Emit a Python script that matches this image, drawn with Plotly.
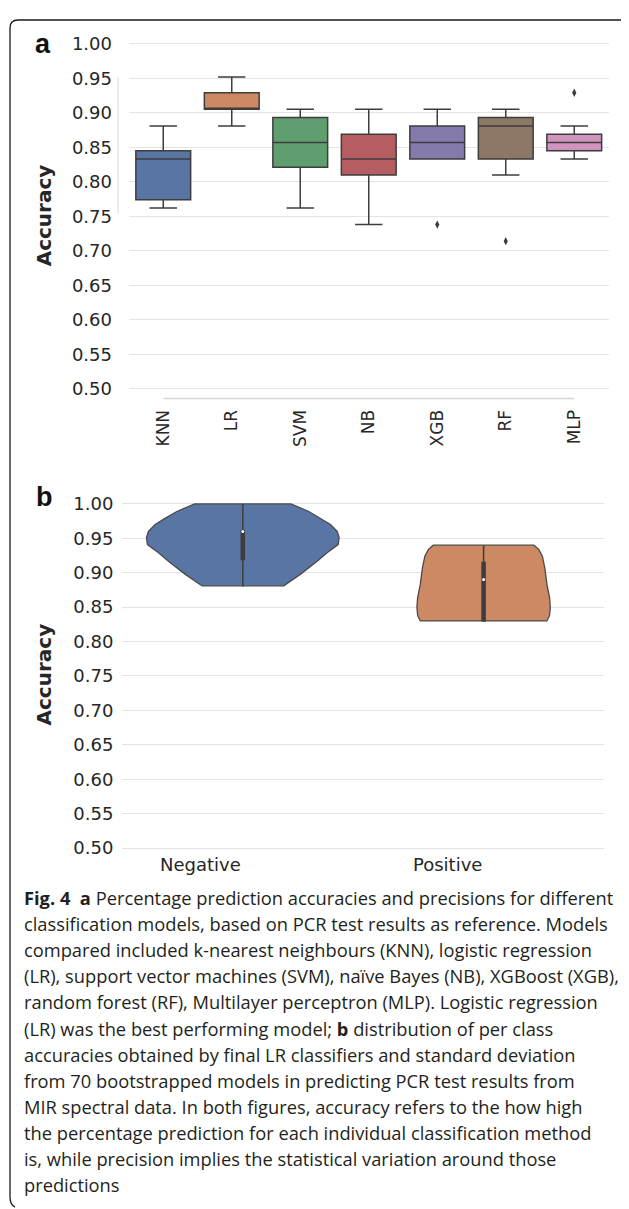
import plotly.graph_objects as go

# ---------------- data ----------------
models = ["KNN", "LR", "SVM", "NB", "XGB", "RF", "MLP"]
box_lowerfence = [0.762, 0.881, 0.762, 0.738, 0.833, 0.810, 0.833]
box_q1 = [0.774, 0.905, 0.821, 0.810, 0.833, 0.833, 0.845]
box_median = [0.833, 0.905, 0.857, 0.833, 0.857, 0.881, 0.857]
box_q3 = [0.845, 0.929, 0.893, 0.869, 0.881, 0.893, 0.869]
box_upperfence = [0.881, 0.952, 0.905, 0.905, 0.905, 0.905, 0.881]
box_colors = ["#5975a4", "#cc8963", "#5f9e6e", "#b55d60", "#857aab", "#8d7866", "#d095bf"]
outlier_models = ["XGB", "RF", "MLP"]
outlier_values = [0.738, 0.714, 0.929]

classes = ["Negative", "Positive"]
violin_colors = ["#5975a4", "#cc8963"]
neg_levels = [0.881, 0.898, 0.917, 0.929, 0.941, 0.951, 0.960, 0.970, 0.979, 0.989, 1.000]
neg_halfwidth = [0.170, 0.240, 0.310, 0.350, 0.396, 0.400, 0.392, 0.364, 0.323, 0.274, 0.200]
pos_levels = [0.830, 0.838, 0.850, 0.864, 0.883, 0.907, 0.924, 0.934, 0.940]
pos_halfwidth = [0.263, 0.274, 0.277, 0.274, 0.263, 0.254, 0.244, 0.229, 0.209]
class_min = [0.880, 0.830]
class_max = [1.000, 0.940]
class_q1 = [0.918, 0.829]
class_q3 = [0.962, 0.916]
class_median = [0.960, 0.890]

y_ticks = [0.50, 0.55, 0.60, 0.65, 0.70, 0.75, 0.80, 0.85, 0.90, 0.95, 1.00]

caption_lines = [
    "<b>Fig. 4</b>\u00a0\u00a0<b>a</b> Percentage prediction accuracies and precisions for different",
    "classification models, based on PCR test results as reference. Models",
    "compared included k-nearest neighbours (KNN), logistic regression",
    "(LR), support vector machines (SVM), naïve Bayes (NB), XGBoost (XGB),",
    "random forest (RF), Multilayer perceptron (MLP). Logistic regression",
    "(LR) was the best performing model; <b>b</b> distribution of per class",
    "accuracies obtained by final LR classifiers and standard deviation",
    "from 70 bootstrapped models in predicting PCR test results from",
    "MIR spectral data. In both figures, accuracy refers to the how high",
    "the percentage prediction for each individual classification method",
    "is, while precision implies the statistical variation around those",
    "predictions",
]

# ---------------- layout constants ----------------
W, H = 629, 1209
OX, OY = 8, 8  # default page body margin offsets the figure


def px(x):
    return (x - OX) / W


def py(y):
    return 1 - (y - OY) / H


EDGE = "#3d3d3d"
GRID = "#e4e4e4"
TXT = "#262626"

fig = go.Figure()

# panel a: boxes
for m, lf, q1, med, q3, uf, c in zip(models, box_lowerfence, box_q1, box_median,
                                     box_q3, box_upperfence, box_colors):
    fig.add_trace(go.Box(
        x=[m], q1=[q1], median=[med], q3=[q3], lowerfence=[lf], upperfence=[uf],
        fillcolor=c, line=dict(color=EDGE, width=1.5), width=0.8, whiskerwidth=0.5,
        boxpoints=False, showlegend=False, xaxis="x", yaxis="y", hoverinfo="skip"))

fig.add_trace(go.Scatter(
    x=outlier_models, y=outlier_values, mode="markers",
    marker=dict(symbol="diamond-tall", size=6, color=EDGE),
    showlegend=False, xaxis="x", yaxis="y", hoverinfo="skip"))

# panel b: violins
profiles = [(neg_levels, neg_halfwidth), (pos_levels, pos_halfwidth)]
for i, ((lv, hw), c) in enumerate(zip(profiles, violin_colors)):
    xs = [i - h for h in hw] + [i + h for h in reversed(hw)] + [i - hw[0]]
    ys = list(lv) + list(reversed(lv)) + [lv[0]]
    fig.add_trace(go.Scatter(
        x=xs, y=ys, mode="lines", fill="toself", fillcolor=c,
        line=dict(color="#4a4a4a", width=1.3), showlegend=False,
        xaxis="x2", yaxis="y2", hoverinfo="skip"))
    fig.add_trace(go.Scatter(
        x=[i, i], y=[class_min[i], class_max[i]], mode="lines",
        line=dict(color=EDGE, width=1.5), showlegend=False,
        xaxis="x2", yaxis="y2", hoverinfo="skip"))
    fig.add_trace(go.Scatter(
        x=[i, i], y=[class_q1[i], class_q3[i]], mode="lines",
        line=dict(color=EDGE, width=4.5), showlegend=False,
        xaxis="x2", yaxis="y2", hoverinfo="skip"))
    fig.add_trace(go.Scatter(
        x=[i], y=[class_median[i]], mode="markers",
        marker=dict(color="white", size=3), showlegend=False,
        xaxis="x2", yaxis="y2", hoverinfo="skip"))

axis_font = dict(family="DejaVu Sans", size=18, color=TXT)

fig.update_layout(
    width=W, height=H, margin=dict(l=0, r=0, t=0, b=0),
    paper_bgcolor="white", plot_bgcolor="white",
    font=dict(family="DejaVu Sans", color=TXT),
    xaxis=dict(domain=[px(129), px(608.5)], type="category", categoryorder="array",
               categoryarray=models, range=[-0.5, 6.5], showgrid=False, zeroline=False,
               showline=False, ticks="", tickangle=-90,
               tickfont=dict(family="DejaVu Sans", size=17, color=TXT),
               ticklabelstandoff=7, anchor="y"),
    yaxis=dict(domain=[py(392.7), py(32.9)], range=[0.486, 1.003], tickvals=y_ticks,
               tickformat=".2f", showgrid=True, gridcolor=GRID, gridwidth=1.3,
               zeroline=False, showline=False, ticks="", tickfont=axis_font,
               ticklabelstandoff=16, anchor="x"),
    xaxis2=dict(domain=[px(122.4), px(604)], range=[-0.5, 1.5], tickvals=[0, 1],
                showticklabels=False, showgrid=False, zeroline=False, showline=False,
                ticks="", anchor="y2"),
    yaxis2=dict(domain=[py(855.7), py(496.2)], range=[0.486, 1.004], tickvals=y_ticks,
                tickformat=".2f", showgrid=True, gridcolor=GRID, gridwidth=1.3,
                zeroline=False, showline=False, ticks="", tickfont=axis_font,
                ticklabelstandoff=8, anchor="x2"),
)

shapes = []
# trimmed spines of panel a
shapes.append(dict(type="line", xref="x", yref="y domain", x0=models[0], x1=models[-1],
                   y0=0, y1=0, line=dict(color="#d6d6d6", width=1.3), layer="below"))
shapes.append(dict(type="line", xref="paper", yref="y", x0=px(118), x1=px(118),
                   y0=0.755, y1=0.952, line=dict(color="#e0e0e0", width=1.3), layer="below"))
# rounded frame
frame = (f"M {px(15)},{py(1208)} Q {px(10)},{py(1205)} {px(10)},{py(1198)} "
         f"L {px(10)},{py(19)} Q {px(10)},{py(11)} {px(18)},{py(11)} "
         f"L {px(625)},{py(11)} Q {px(628)},{py(11)} {px(629)},{py(13)}")
shapes.append(dict(type="path", xref="paper", yref="paper", path=frame,
                   line=dict(color="#1a1a1a", width=1.3)))
fig.update_layout(shapes=shapes)

ann = []
ann.append(dict(text="<b>a</b>", x=px(43), y=py(35.5), xref="paper", yref="paper",
                showarrow=False, xanchor="center", yanchor="middle",
                font=dict(family="Liberation Sans", size=27, color="#111111")))
ann.append(dict(text="<b>b</b>", x=px(44), y=py(492), xref="paper", yref="paper",
                showarrow=False, xanchor="center", yanchor="middle",
                font=dict(family="Liberation Sans", size=27, color="#111111")))
for yc in (208, 671):
    ann.append(dict(text="<b>Accuracy</b>", x=px(44), y=py(yc), xref="paper", yref="paper",
                    showarrow=False, textangle=-90, xanchor="center", yanchor="middle",
                    font=dict(family="DejaVu Sans", size=20, color=TXT)))
for i, c in enumerate(classes):
    ann.append(dict(text=c, x=i, y=py(862.5), xref="x2", yref="paper", showarrow=False,
                    xanchor="right", yanchor="middle", font=axis_font))
for k, line in enumerate(caption_lines):
    ann.append(dict(text=line, x=px(22), y=py(896 + 26.3 * k), xref="paper", yref="paper",
                    showarrow=False, xanchor="left", yanchor="middle",
                    font=dict(family="Open Sans", size=18.3, color="#231f20")))
fig.update_layout(annotations=ann)

fig.write_html("out.html")
